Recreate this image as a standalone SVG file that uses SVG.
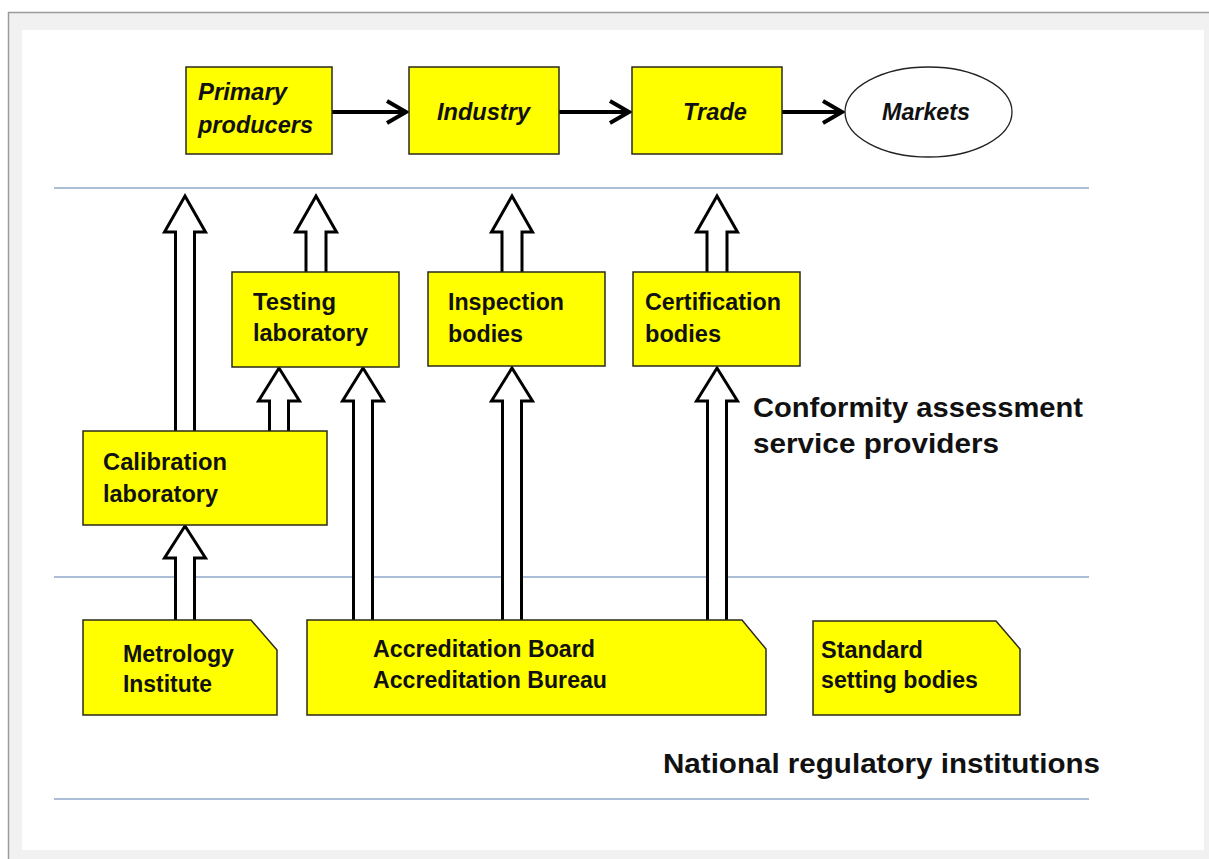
<svg xmlns="http://www.w3.org/2000/svg" width="1209" height="859" viewBox="0 0 1209 859">
<style>
.box{fill:#ffff00;stroke:#2a2a1a;stroke-width:1.5}
.lbl{font-family:"Liberation Sans",Arial,sans-serif;font-weight:bold;font-size:23px;fill:#111}
.it{font-style:italic}
.big{font-family:"Liberation Sans",Arial,sans-serif;font-weight:bold;font-size:27px;fill:#111}
.sep{stroke:#5b7fae;stroke-width:1.2}
.flow{stroke:#000;stroke-width:4;fill:none}
.head{stroke:#000;stroke-width:4;fill:none;stroke-linecap:butt;stroke-linejoin:miter}
.blk{fill:#fff;stroke:#000;stroke-width:3;stroke-linejoin:miter}
</style>
<rect x="0" y="0" width="1209" height="859" fill="#fff"/>
<rect x="8" y="12" width="1201" height="847" fill="#f1f1f1"/>
<line x1="8" y1="12.5" x2="1209" y2="12.5" stroke="#9a9a9a" stroke-width="1.5"/>
<line x1="8.5" y1="12" x2="8.5" y2="859" stroke="#9a9a9a" stroke-width="1.5"/>
<rect x="22" y="30" width="1182" height="820" fill="#fff"/>

<g id="separators">
<line class="sep" x1="54" y1="188" x2="1089" y2="188"/>
<line class="sep" x1="54" y1="577" x2="1089" y2="577"/>
<line class="sep" x1="54" y1="799" x2="1089" y2="799"/>
</g>

<g id="connectors">
<line class="flow" x1="332" y1="112" x2="405" y2="112"/>
<polyline class="head" points="387,101 406,112 387,123"/>
<line class="flow" x1="559" y1="112" x2="628" y2="112"/>
<polyline class="head" points="610,101 629,112 610,123"/>
<line class="flow" x1="782" y1="112" x2="841" y2="112"/>
<polyline class="head" points="823,101 842,112 823,123"/>

<path class="blk" d="M175.5,431 V232 H164.5 L185,196 L205.5,232 H194.5 V431"/>
<path class="blk" d="M306,272 V232 H295.5 L316,196 L336.5,232 H326 V272"/>
<path class="blk" d="M502,272 V232 H491.5 L512,196 L532.5,232 H522 V272"/>
<path class="blk" d="M707,272 V232 H696.5 L717,196 L737.5,232 H727 V272"/>
<path class="blk" d="M269.5,431 V401 H258.5 L279,368 L299.5,401 H288.5 V431"/>
<path class="blk" d="M353.5,620 V401 H342.5 L363,368 L383.5,401 H372.5 V620"/>
<path class="blk" d="M502.5,620 V401 H491.5 L512,368 L532.5,401 H521.5 V620"/>
<path class="blk" d="M707.5,620 V401 H696.5 L717,368 L737.5,401 H726.5 V620"/>
<path class="blk" d="M175.5,620 V558 H164.5 L185,526 L205.5,558 H194.5 V620"/>
</g>

<g id="primary">
<rect class="box" x="186" y="67" width="146" height="87"/>
<text class="lbl it" x="198" y="100" textLength="89" lengthAdjust="spacingAndGlyphs">Primary</text>
<text class="lbl it" x="198" y="133" textLength="115" lengthAdjust="spacingAndGlyphs">producers</text>
</g>
<g id="industry">
<rect class="box" x="409" y="67" width="150" height="87"/>
<text class="lbl it" x="437" y="120" textLength="93" lengthAdjust="spacingAndGlyphs">Industry</text>
</g>
<g id="trade">
<rect class="box" x="632" y="67" width="150" height="87"/>
<text class="lbl it" x="683" y="120" textLength="64" lengthAdjust="spacingAndGlyphs">Trade</text>
</g>
<g id="markets">
<ellipse cx="928.5" cy="112" rx="83.5" ry="45" fill="#fff" stroke="#222" stroke-width="1.3"/>
<text class="lbl it" x="882" y="120" textLength="88" lengthAdjust="spacingAndGlyphs">Markets</text>
</g>

<g id="testing">
<rect class="box" x="232" y="272" width="167" height="95"/>
<text class="lbl" x="253" y="310" textLength="83" lengthAdjust="spacingAndGlyphs">Testing</text>
<text class="lbl" x="253" y="341" textLength="115" lengthAdjust="spacingAndGlyphs">laboratory</text>
</g>
<g id="inspection">
<rect class="box" x="428" y="272" width="177" height="94"/>
<text class="lbl" x="448" y="310" textLength="116" lengthAdjust="spacingAndGlyphs">Inspection</text>
<text class="lbl" x="448" y="342" textLength="75" lengthAdjust="spacingAndGlyphs">bodies</text>
</g>
<g id="certification">
<rect class="box" x="633" y="272" width="167" height="94"/>
<text class="lbl" x="645" y="310" textLength="136" lengthAdjust="spacingAndGlyphs">Certification</text>
<text class="lbl" x="645" y="342" textLength="76" lengthAdjust="spacingAndGlyphs">bodies</text>
</g>
<g id="calibration">
<rect class="box" x="83" y="431" width="244" height="94"/>
<text class="lbl" x="103" y="470" textLength="124" lengthAdjust="spacingAndGlyphs">Calibration</text>
<text class="lbl" x="103" y="502" textLength="115" lengthAdjust="spacingAndGlyphs">laboratory</text>
</g>

<g id="metrology">
<path class="box" d="M83,620 H251 L277,650 V715 H83 Z"/>
<text class="lbl" x="123" y="662" textLength="111" lengthAdjust="spacingAndGlyphs">Metrology</text>
<text class="lbl" x="123" y="692" textLength="89" lengthAdjust="spacingAndGlyphs">Institute</text>
</g>
<g id="accreditation">
<path class="box" d="M307,620 H742 L766,649 V715 H307 Z"/>
<text class="lbl" x="373" y="657" textLength="222" lengthAdjust="spacingAndGlyphs">Accreditation Board</text>
<text class="lbl" x="373" y="688" textLength="234" lengthAdjust="spacingAndGlyphs">Accreditation Bureau</text>
</g>
<g id="standard">
<path class="box" d="M813,621 H996 L1020,649 V715 H813 Z"/>
<text class="lbl" x="821" y="658" textLength="102" lengthAdjust="spacingAndGlyphs">Standard</text>
<text class="lbl" x="821" y="688" textLength="157" lengthAdjust="spacingAndGlyphs">setting bodies</text>
</g>

<g id="labels">
<text class="big" x="753" y="417" textLength="330" lengthAdjust="spacingAndGlyphs">Conformity assessment</text>
<text class="big" x="753" y="453" textLength="246" lengthAdjust="spacingAndGlyphs">service providers</text>
<text class="big" x="663" y="773" textLength="437" lengthAdjust="spacingAndGlyphs">National regulatory institutions</text>
</g>
</svg>
